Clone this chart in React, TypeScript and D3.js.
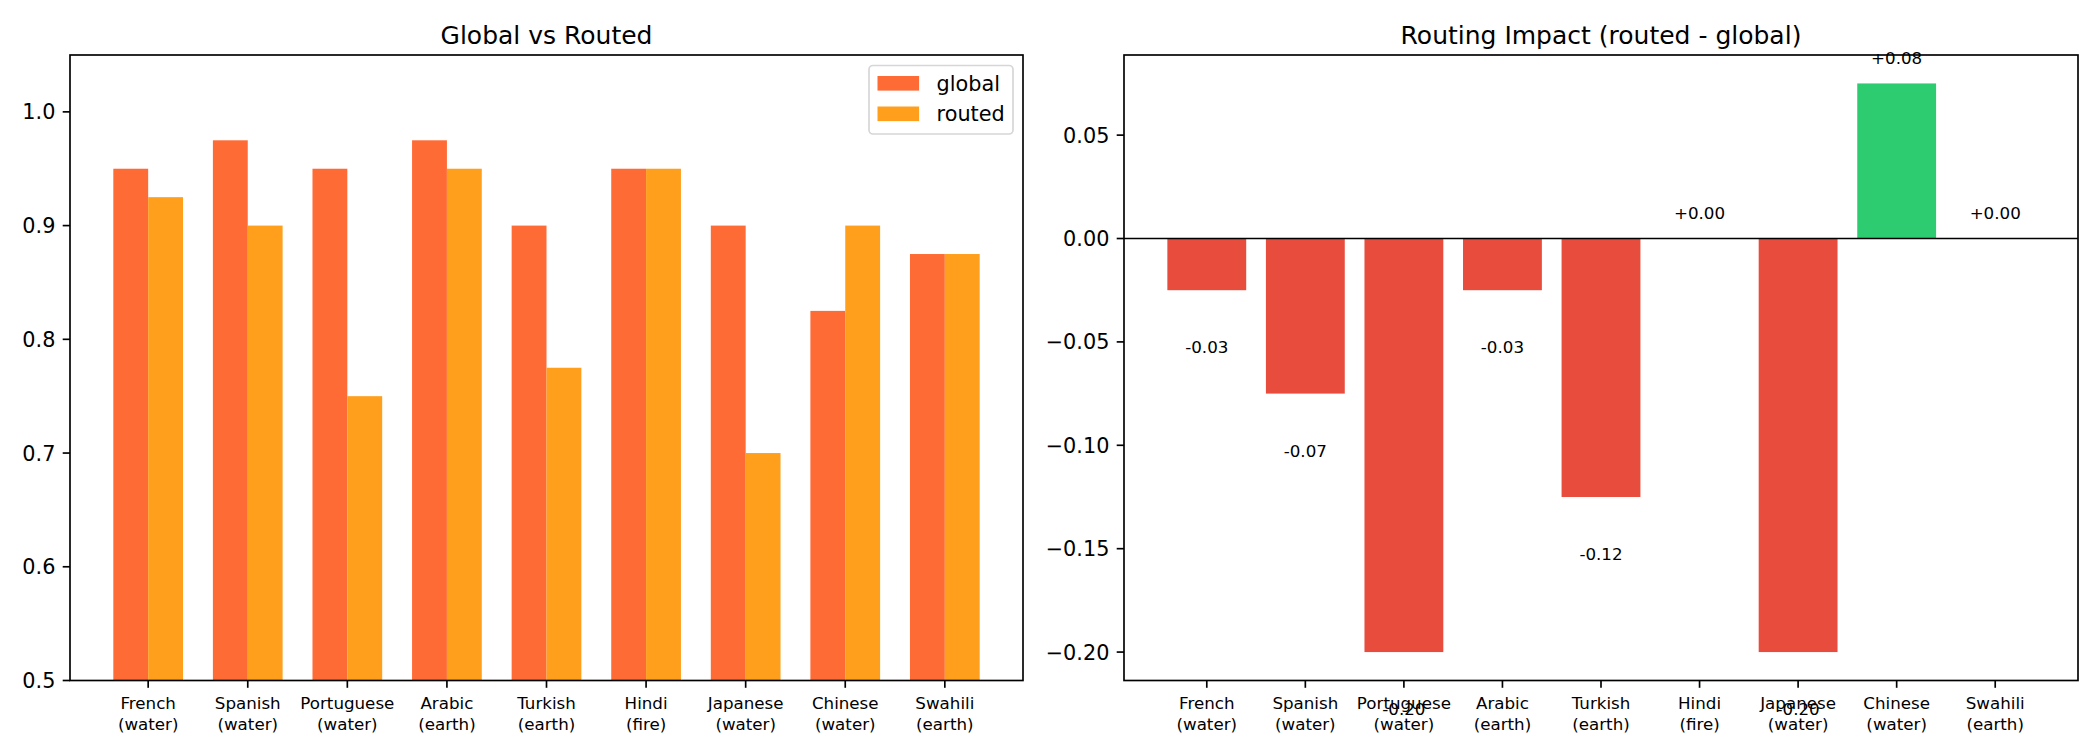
import * as d3 from "d3";

// languages (with element) on the x axis
const languages = ["French", "Spanish", "Portuguese", "Arabic", "Turkish", "Hindi", "Japanese", "Chinese", "Swahili"];
const elements = ["water", "water", "water", "earth", "earth", "fire", "water", "water", "earth"];

// accuracy per language
const globalScores = [0.95, 0.975, 0.95, 0.975, 0.9, 0.95, 0.9, 0.825, 0.875];
const routedScores = [0.925, 0.9, 0.75, 0.95, 0.775, 0.95, 0.7, 0.9, 0.875];

// routed - global, and the labels printed on the bars
const impact = [-0.025, -0.075, -0.2, -0.025, -0.125, 0, -0.2, 0.075, 0];
const impactLabels = ["-0.03", "-0.07", "-0.20", "-0.03", "-0.12", "+0.00", "-0.20", "+0.08", "+0.00"];

const leftTicks = [0.5, 0.6, 0.7, 0.8, 0.9, 1.0];
const rightTicks = [-0.2, -0.15, -0.1, -0.05, 0, 0.05];

const W = 2100;
const H = 750;
const FONT = "DejaVu Sans";
const TOP = 55;
const BOTTOM = 680.5;

const COLORS = {
  global: "#ff6b35",
  routed: "#ff9f1c",
  down: "#e74c3c",
  up: "#2ecc71",
};

function XLabels({ x }: { x: (v: number) => number }) {
  return (
    <g>
      {languages.map((lang, i) => (
        <g key={lang}>
          <line x1={x(i)} x2={x(i)} y1={BOTTOM} y2={BOTTOM + 7.3} stroke="#000" strokeWidth={1.67} />
          <text x={x(i)} y={BOTTOM + 28.8} textAnchor="middle" fontSize={16.7}>
            {lang}
          </text>
          <text x={x(i)} y={BOTTOM + 49.3} textAnchor="middle" fontSize={16.7}>
            ({elements[i]})
          </text>
        </g>
      ))}
    </g>
  );
}

function YAxis({ y, ticks, left, fmt }: { y: d3.ScaleLinear<number, number>; ticks: number[]; left: number; fmt: (v: number) => string }) {
  return (
    <g>
      {ticks.map((t) => (
        <g key={t}>
          <line x1={left - 7.3} x2={left} y1={y(t)} y2={y(t)} stroke="#000" strokeWidth={1.67} />
          <text x={left - 14.6} y={y(t) + 7.5} textAnchor="end" fontSize={20.8}>
            {fmt(t)}
          </text>
        </g>
      ))}
    </g>
  );
}

function Frame({ left, right }: { left: number; right: number }) {
  return (
    <rect x={left} y={TOP} width={right - left} height={BOTTOM - TOP} fill="none" stroke="#000" strokeWidth={1.67} />
  );
}

export default function App() {
  // left panel: grouped bars
  const L = { left: 70, right: 1023 };
  const barW = 0.35;
  const xL = d3.scaleLinear().domain([-0.785, 8.785]).range([L.left, L.right]);
  const yL = d3.scaleLinear().domain([0.5, 1.05]).range([BOTTOM, TOP]);

  // right panel: impact bars
  const R = { left: 1124, right: 2078 };
  const xR = d3.scaleLinear().domain([-0.84, 8.84]).range([R.left, R.right]);
  const yR = d3.scaleLinear().domain([-0.21375, 0.08875]).range([BOTTOM, TOP]);

  const fmt1 = d3.format(".1f");
  const fmt2 = d3.format(".2f");

  return (
    <svg
      width={W}
      height={H}
      viewBox={`0 0 ${W} ${H}`}
      style={{ position: "fixed", left: 0, top: 0, background: "#fff" }}
      fontFamily={FONT}
      fill="#000"
    >
      <defs>
        <clipPath id="clipL">
          <rect x={L.left} y={TOP} width={L.right - L.left} height={BOTTOM - TOP} />
        </clipPath>
      </defs>
      <rect x={0} y={0} width={W} height={H} fill="#fff" />

      {/* Global vs Routed */}
      <g clipPath="url(#clipL)">
        {languages.map((lang, i) => (
          <g key={lang}>
            <rect
              x={xL(i - barW)}
              y={yL(globalScores[i])}
              width={xL(i) - xL(i - barW)}
              height={yL(0) - yL(globalScores[i])}
              fill={COLORS.global}
            />
            <rect
              x={xL(i)}
              y={yL(routedScores[i])}
              width={xL(i + barW) - xL(i)}
              height={yL(0) - yL(routedScores[i])}
              fill={COLORS.routed}
            />
          </g>
        ))}
      </g>
      <Frame left={L.left} right={L.right} />
      <YAxis y={yL} ticks={leftTicks} left={L.left} fmt={fmt1} />
      <XLabels x={xL} />
      <text x={(L.left + L.right) / 2} y={43.5} textAnchor="middle" fontSize={25}>
        Global vs Routed
      </text>

      {/* legend */}
      <g>
        <rect x={869} y={65.5} width={144} height={68.5} rx={4} fill="#fff" fillOpacity={0.8} stroke="#d6d6d6" strokeWidth={1.67} />
        <rect x={877.5} y={76} width={41.6} height={14.6} fill={COLORS.global} />
        <text x={936.6} y={90.6} fontSize={20.8}>global</text>
        <rect x={877.5} y={106.5} width={41.6} height={14.6} fill={COLORS.routed} />
        <text x={936.6} y={121.1} fontSize={20.8}>routed</text>
      </g>

      {/* Routing Impact */}
      <g>
        {impact.map((v, i) => (
          <rect
            key={languages[i]}
            x={xR(i - 0.4)}
            y={Math.min(yR(v), yR(0))}
            width={xR(i + 0.4) - xR(i - 0.4)}
            height={Math.abs(yR(v) - yR(0))}
            fill={v > 0 ? COLORS.up : COLORS.down}
          />
        ))}
      </g>
      <line x1={R.left} x2={R.right} y1={yR(0)} y2={yR(0)} stroke="#000" strokeWidth={1.67} />
      <Frame left={R.left} right={R.right} />
      {impact.map((v, i) => (
        <text
          key={languages[i]}
          x={xR(i)}
          y={v < 0 ? yR(v) + 63 : yR(v) - 19.5}
          textAnchor="middle"
          fontSize={16.7}
        >
          {impactLabels[i]}
        </text>
      ))}
      <YAxis y={yR} ticks={rightTicks} left={R.left} fmt={fmt2} />
      <XLabels x={xR} />
      <text x={(R.left + R.right) / 2} y={43.5} textAnchor="middle" fontSize={25}>
        Routing Impact (routed - global)
      </text>
    </svg>
  );
}
